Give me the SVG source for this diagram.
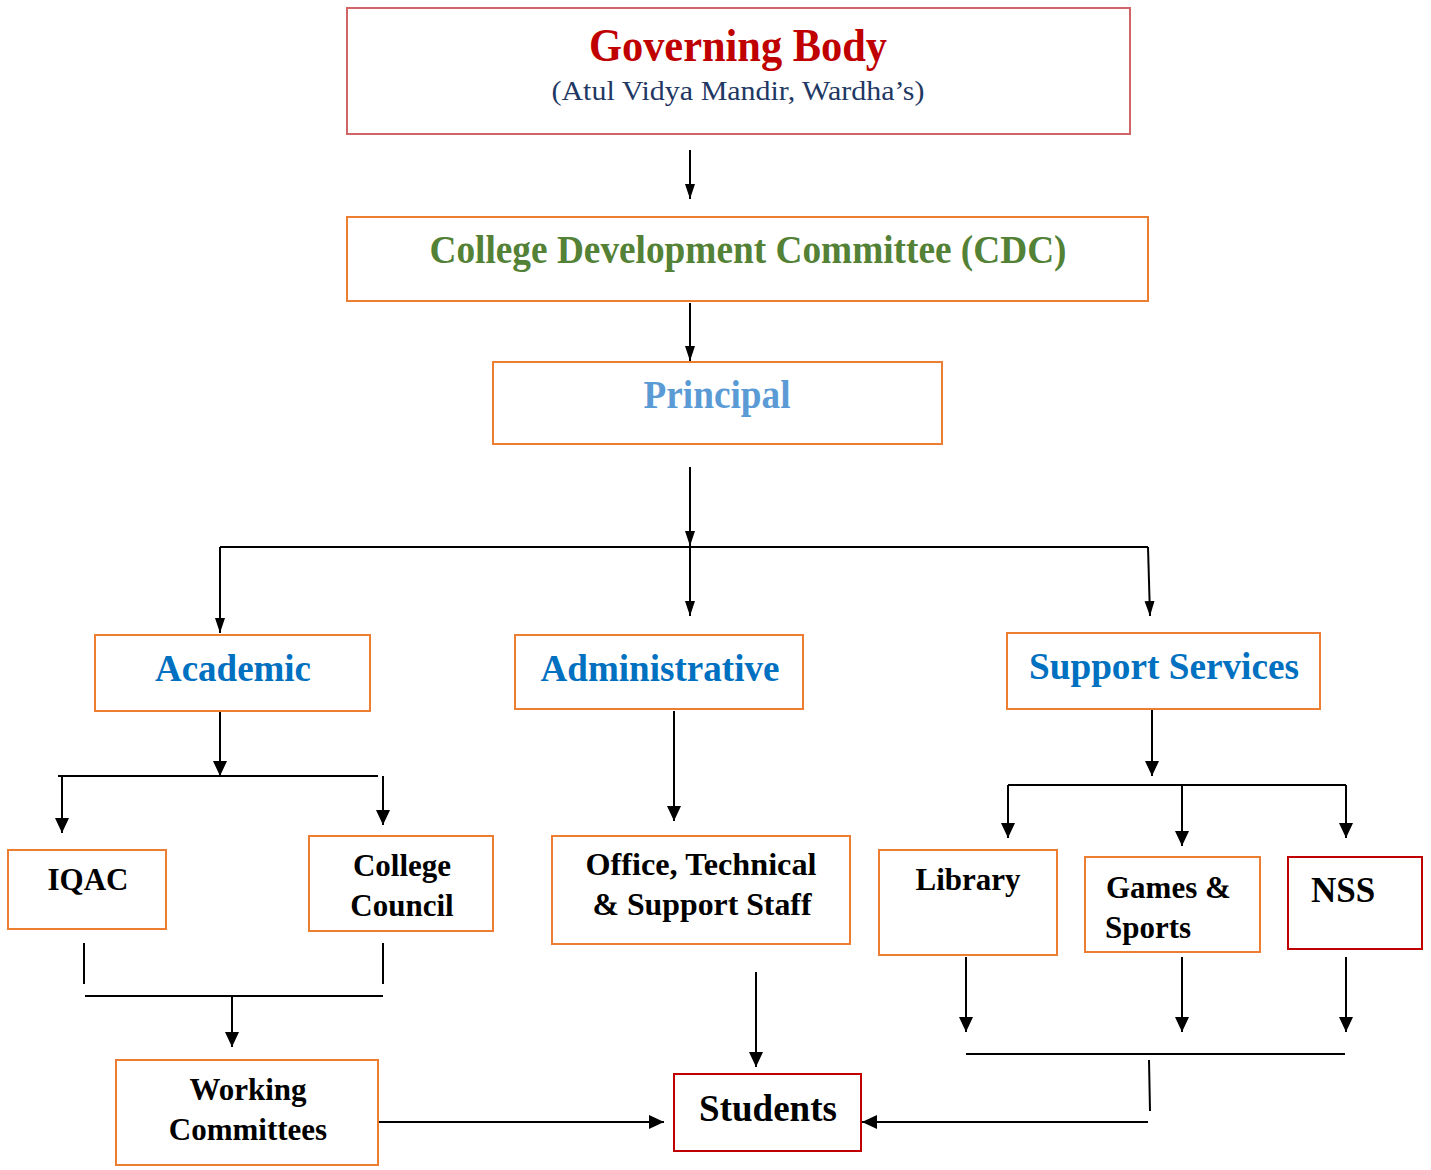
<svg xmlns="http://www.w3.org/2000/svg" width="1431" height="1170" viewBox="0 0 1431 1170">
<style>
.box{fill:#fff;stroke:#ed7d31;stroke-width:2}
.red{stroke:#c00000}
.gb{stroke:#d06466}
.t{font-family:"Liberation Serif","Times New Roman",serif;font-weight:bold;text-anchor:middle}
.blk{fill:#000;font-size:31px}
.blue{fill:#0070c0;font-size:38px}
.ln{stroke:#000;stroke-width:2;fill:none}
.ar{stroke:#000;stroke-width:2;fill:none;marker-end:url(#ah)}
.ar2{stroke:#000;stroke-width:2;fill:none;marker-end:url(#ah2)}
</style>
<defs>
<marker id="ah" markerUnits="userSpaceOnUse" markerWidth="16" markerHeight="16" refX="15" refY="7" orient="auto">
<path d="M0,0 L15,7 L0,14 Z" fill="#000"/>
</marker>
<marker id="ah2" markerUnits="userSpaceOnUse" markerWidth="16" markerHeight="12" refX="15" refY="5" orient="auto">
<path d="M0,0 L15,5 L0,10 Z" fill="#000"/>
</marker>
</defs>
<rect width="1431" height="1170" fill="#fff"/>
<g id="connectors">
<path class="ar2" d="M690,150 V199"/>
<path class="ar2" d="M690,303 V361"/>
<path class="ar2" d="M690,467 V546"/>
<path class="ln" d="M220,547 H1148"/>
<path class="ar2" d="M220,547 V633"/>
<path class="ar2" d="M690,547 V616"/>
<path class="ar2" d="M1148,547 L1150,616"/>
<path class="ar" d="M220,711 V776"/>
<path class="ln" d="M58,776 H378"/>
<path class="ar" d="M62,776 V833"/>
<path class="ar" d="M383,776 V825"/>
<path class="ln" d="M84,943 V984"/>
<path class="ln" d="M383,943 V984"/>
<path class="ln" d="M85,996 H383"/>
<path class="ar" d="M232,996 V1047"/>
<path class="ar" d="M378,1122 H664"/>
<path class="ar" d="M674,711 V821"/>
<path class="ar" d="M756,972 V1067"/>
<path class="ar" d="M1152,706 V776"/>
<path class="ln" d="M1008,785 H1346"/>
<path class="ar" d="M1008,785 V838"/>
<path class="ar" d="M1182,785 V846"/>
<path class="ar" d="M1346,785 V838"/>
<path class="ar" d="M966,957 V1032"/>
<path class="ar" d="M1182,957 V1032"/>
<path class="ar" d="M1346,957 V1032"/>
<path class="ln" d="M966,1054 H1345"/>
<path class="ln" d="M1149,1060 L1150,1111"/>
<path class="ar" d="M1148,1122 H862"/>
</g>
<g id="governing-body">
<rect class="box gb" x="347" y="8" width="783" height="126"/>
<text class="t" x="738" y="61" font-size="46" fill="#c00000" textLength="298" lengthAdjust="spacingAndGlyphs">Governing Body</text>
<text x="738" y="100" font-family="Liberation Serif,Times New Roman,serif" font-size="27" fill="#1f3864" text-anchor="middle" textLength="373" lengthAdjust="spacingAndGlyphs">(Atul Vidya Mandir, Wardha’s)</text>
</g>
<g id="cdc">
<rect class="box" x="347" y="217" width="801" height="84"/>
<text class="t" x="748" y="263" font-size="40" fill="#538135" textLength="637" lengthAdjust="spacingAndGlyphs">College Development Committee (CDC)</text>
</g>
<g id="principal">
<rect class="box" x="493" y="362" width="449" height="82"/>
<text class="t" x="717" y="408" font-size="40" fill="#5b9bd5" textLength="147" lengthAdjust="spacingAndGlyphs">Principal</text>
</g>
<g id="academic">
<rect class="box" x="95" y="635" width="275" height="76"/>
<text class="t blue" x="233" y="681" textLength="156" lengthAdjust="spacingAndGlyphs">Academic</text>
</g>
<g id="administrative">
<rect class="box" x="515" y="635" width="288" height="74"/>
<text class="t blue" x="660" y="681" textLength="239" lengthAdjust="spacingAndGlyphs">Administrative</text>
</g>
<g id="support-services">
<rect class="box" x="1007" y="633" width="313" height="76"/>
<text class="t blue" x="1164" y="679" textLength="270" lengthAdjust="spacingAndGlyphs">Support Services</text>
</g>
<g id="iqac">
<rect class="box" x="8" y="850" width="158" height="79"/>
<text class="t blk" x="88" y="890">IQAC</text>
</g>
<g id="college-council">
<rect class="box" x="309" y="836" width="184" height="95"/>
<text class="t blk" x="402" y="876">College</text>
<text class="t blk" x="402" y="916">Council</text>
</g>
<g id="office-staff">
<rect class="box" x="552" y="836" width="298" height="108"/>
<text class="t blk" x="701" y="875" textLength="231" lengthAdjust="spacingAndGlyphs">Office, Technical</text>
<text class="t blk" x="702" y="915" textLength="219" lengthAdjust="spacingAndGlyphs">&amp; Support Staff</text>
</g>
<g id="library">
<rect class="box" x="879" y="850" width="178" height="105"/>
<text class="t blk" x="968" y="890">Library</text>
</g>
<g id="games-sports">
<rect class="box" x="1085" y="857" width="175" height="95"/>
<text class="t blk" x="1106" y="898" style="text-anchor:start">Games &amp;</text>
<text class="t blk" x="1105" y="938" style="text-anchor:start">Sports</text>
</g>
<g id="nss">
<rect class="box red" x="1288" y="857" width="134" height="92"/>
<text class="t" x="1343" y="902" font-size="35" fill="#000">NSS</text>
</g>
<g id="working-committees">
<rect class="box" x="116" y="1060" width="262" height="105"/>
<text class="t blk" x="248" y="1100">Working</text>
<text class="t blk" x="248" y="1140">Committees</text>
</g>
<g id="students">
<rect class="box red" x="674" y="1074" width="187" height="77"/>
<text class="t" x="768" y="1121" font-size="37" fill="#000">Students</text>
</g>
</svg>
